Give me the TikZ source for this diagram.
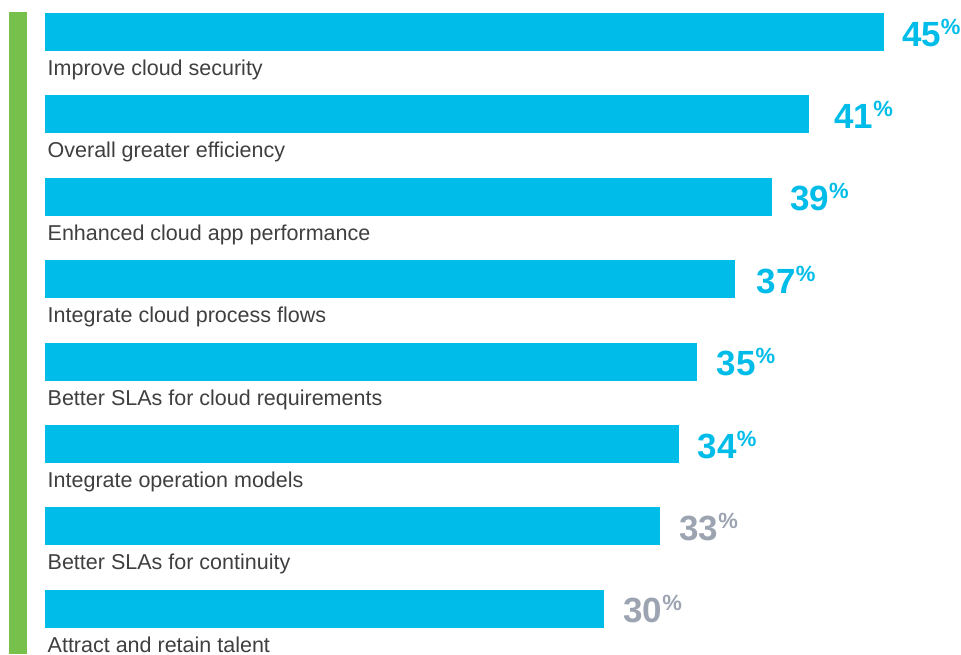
\documentclass[tikz,border=0pt]{standalone}
\usepackage{fontspec}
\setmainfont{Liberation Sans}
\definecolor{barblue}{HTML}{00BCE8}
\definecolor{numgray}{HTML}{9CA4B1}
\definecolor{labgray}{HTML}{3F3F3F}
\definecolor{sidegreen}{HTML}{78C04C}
\begin{document}
\begin{tikzpicture}[x=1pt,y=-1pt,
  barbox/.style={fill=barblue,draw=none},
  labtext/.style={anchor=base west,inner sep=0pt,text=labgray,font=\fontsize{21.5}{24}\selectfont},
  numtext/.style={anchor=base west,inner sep=0pt,font=\fontsize{35}{36}\selectfont\bfseries}]
\useasboundingbox (0,0) rectangle (961,654);
\fill[sidegreen] (9,12) rectangle (27,654);
\foreach \i/\v/\dx/\lab/\col in {
  1/45/0/Improve cloud security/barblue,
  2/41/7/Overall greater efficiency/barblue,
  3/39/0/Enhanced cloud app performance/barblue,
  4/37/4/Integrate cloud process flows/barblue,
  5/35/1/Better SLAs for cloud requirements/barblue,
  6/34/1/Integrate operation models/barblue,
  7/33/1/Better SLAs for continuity/numgray,
  8/30/1/Attract and retain talent/numgray}{
  \pgfmathsetmacro{\top}{13+(\i-1)*82.4}
  \pgfmathsetmacro{\xend}{45+\v*18.64}
  \path[barbox] (45,\top) rectangle (\xend,\top+38) coordinate (be\i);
  \node[numtext,text=\col] (v\i) at (\xend+18+\dx,\top+33) {\v\raisebox{12pt}{\fontsize{22}{22}\selectfont\%}};
  \node[labtext] (l\i) at (47.5,\top+62.5) {\lab};
}
\end{tikzpicture}
\end{document}
